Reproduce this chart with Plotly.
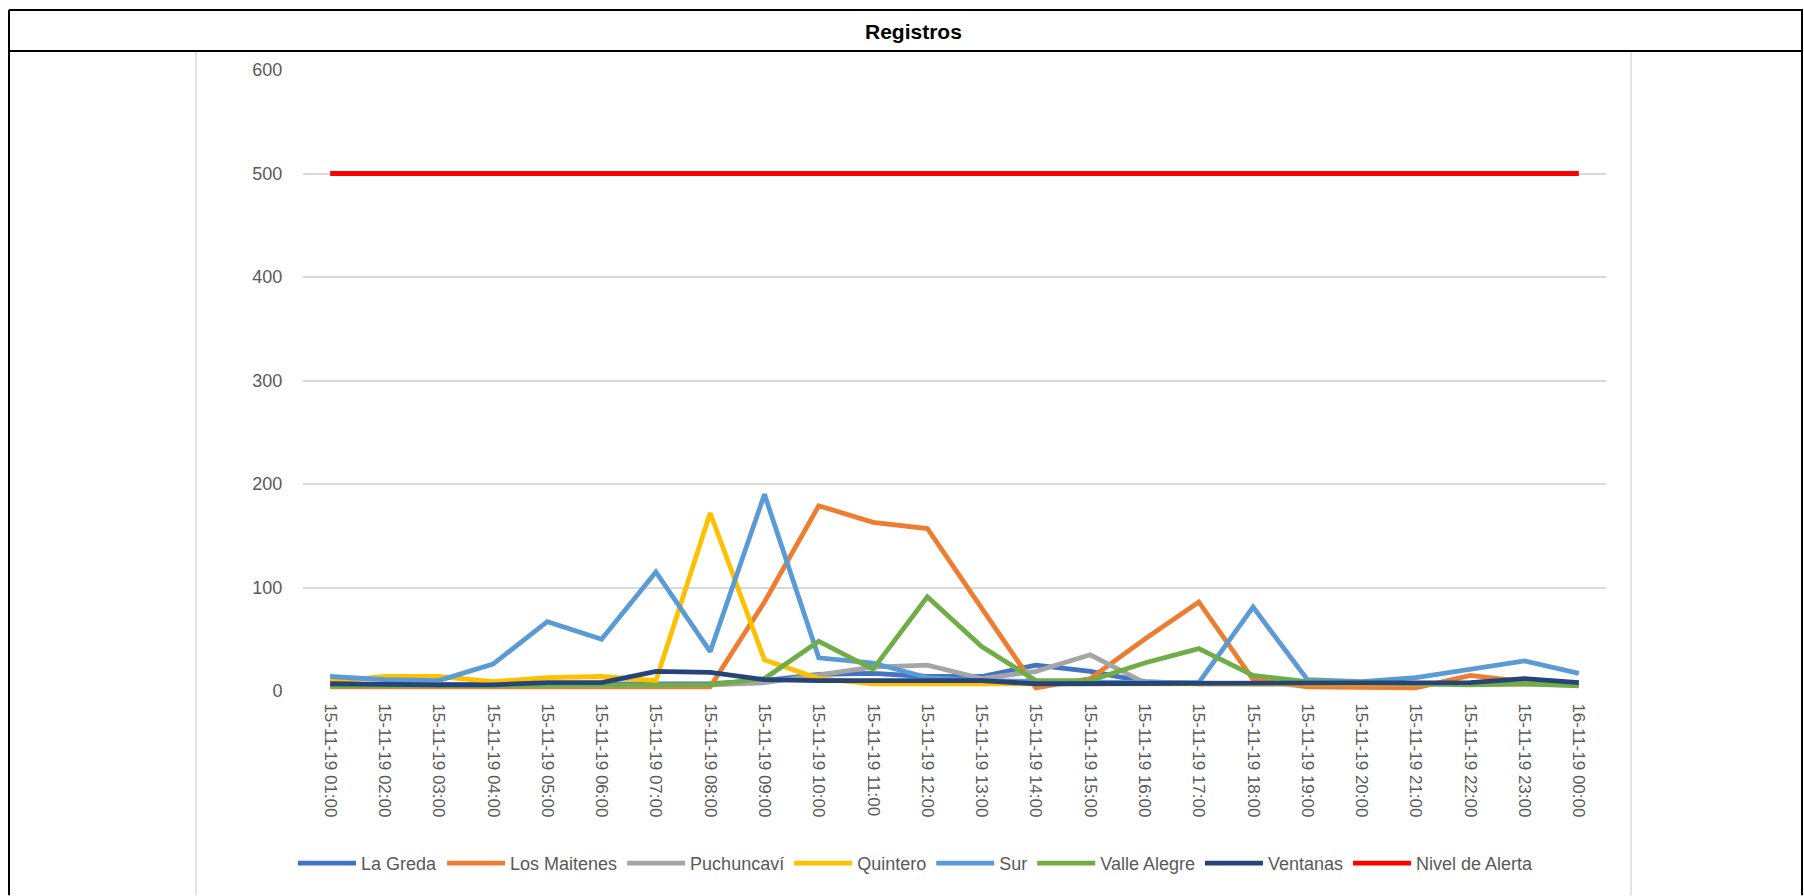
import plotly.graph_objects as go

categories = ["15-11-19 01:00", "15-11-19 02:00", "15-11-19 03:00", "15-11-19 04:00",
              "15-11-19 05:00", "15-11-19 06:00", "15-11-19 07:00", "15-11-19 08:00",
              "15-11-19 09:00", "15-11-19 10:00", "15-11-19 11:00", "15-11-19 12:00",
              "15-11-19 13:00", "15-11-19 14:00", "15-11-19 15:00", "15-11-19 16:00",
              "15-11-19 17:00", "15-11-19 18:00", "15-11-19 19:00", "15-11-19 20:00",
              "15-11-19 21:00", "15-11-19 22:00", "15-11-19 23:00", "16-11-19 00:00"]

la_greda = [6, 6, 6, 6, 7, 7, 7, 7, 10, 16, 17, 14, 14, 25, 19, 9, 7, 7, 7, 7, 7, 7, 7, 7]
los_maitenes = [4, 4, 4, 4, 4, 4, 4, 4, 86, 179, 163, 157, 80, 3, 12, 50, 86, 11, 4, 3, 3, 15, 9, 7]
puchuncavi = [5, 5, 5, 5, 5, 5, 5, 6, 8, 15, 23, 25, 12, 19, 35, 8, 7, 7, 7, 7, 7, 7, 7, 7]
quintero = [9, 14, 14, 9, 13, 14, 10, 172, 30, 12, 7, 7, 7, 7, 7, 7, 7, 8, 8, 7, 7, 7, 7, 7]
sur = [14, 11, 10, 26, 67, 50, 115, 38, 190, 32, 27, 13, 10, 9, 8, 8, 8, 81, 11, 9, 13, 21, 29, 17]
valle_alegre = [5, 5, 5, 5, 5, 5, 5, 6, 12, 48, 21, 91, 43, 10, 10, 27, 41, 15, 9, 8, 7, 6, 7, 5]
ventanas = [7, 6, 6, 6, 8, 8, 19, 18, 11, 10, 10, 10, 10, 7, 7, 7, 7, 7, 7, 7, 7, 8, 12, 8]
nivel_alerta = [500] * 24

y_ticks = [0, 100, 200, 300, 400, 500, 600]

series = [
    ("La Greda", la_greda, "#4472C4"),
    ("Los Maitenes", los_maitenes, "#ED7D31"),
    ("Puchuncaví", puchuncavi, "#A5A5A5"),
    ("Quintero", quintero, "#FFC000"),
    ("Sur", sur, "#5B9BD5"),
    ("Valle Alegre", valle_alegre, "#70AD47"),
    ("Ventanas", ventanas, "#264478"),
    ("Nivel de Alerta", nivel_alerta, "#FF0000"),
]

xs = list(range(len(categories)))
fig = go.Figure()
for name, vals, col in series:
    fig.add_trace(go.Scatter(x=xs, y=vals, name=name, mode="lines",
                             line=dict(color=col, width=4.8)))

W, H = 1804, 896
L, R, T, B = 303, 1606, 70, 691.5
pw, ph = R - L, B - T

def px(x):
    return (x - L) / pw

def py(y):
    return (B - y) / ph

font = "Liberation Sans, Arial, sans-serif"
grey = "#595959"

fig.update_layout(
    width=W, height=H,
    margin=dict(l=L, r=W - R, t=T, b=H - B, pad=0),
    paper_bgcolor="white", plot_bgcolor="white",
    font=dict(family=font, color=grey, size=18),
    showlegend=True,
    legend=dict(orientation="h", x=px(916), xanchor="center", y=py(864), yanchor="middle",
                font=dict(size=18, color=grey, family=font), itemwidth=58,
                bgcolor="rgba(0,0,0,0)"),
    xaxis=dict(range=[-0.5, len(categories) - 0.5], tickmode="array", tickvals=xs,
               ticktext=categories, tickangle=90, showgrid=False, zeroline=False,
               showline=False, ticks="outside", ticklen=8, tickcolor="rgba(0,0,0,0)",
               tickfont=dict(size=17, color=grey, family=font)),
    yaxis=dict(range=[0, 600], tickmode="array", tickvals=y_ticks, showgrid=True,
               gridcolor="#D9D9D9", gridwidth=1.5, zeroline=False, showline=False,
               ticks="outside", ticklen=16, tickcolor="rgba(0,0,0,0)",
               tickfont=dict(size=18, color=grey, family=font)),
)

shapes = []
blk = dict(color="black", width=2)
lgt = dict(color="#D9D9D9", width=1.5)
# outer table frame
shapes.append(dict(type="line", xref="paper", yref="paper", x0=px(9), x1=px(1803), y0=py(10), y1=py(10), line=blk))
shapes.append(dict(type="line", xref="paper", yref="paper", x0=px(9), x1=px(1803), y0=py(51), y1=py(51), line=blk))
shapes.append(dict(type="line", xref="paper", yref="paper", x0=px(9), x1=px(9), y0=py(10), y1=py(896), line=blk))
shapes.append(dict(type="line", xref="paper", yref="paper", x0=px(1802), x1=px(1802), y0=py(10), y1=py(896), line=blk))
# chart area frame
shapes.append(dict(type="line", xref="paper", yref="paper", x0=px(196), x1=px(196), y0=py(52), y1=py(896), line=lgt))
shapes.append(dict(type="line", xref="paper", yref="paper", x0=px(1631), x1=px(1631), y0=py(52), y1=py(896), line=lgt))
fig.update_layout(shapes=shapes)

fig.add_annotation(text="<b>Registros</b>", xref="paper", yref="paper", x=px(913), y=py(31),
                   xanchor="center", yanchor="middle", showarrow=False,
                   font=dict(size=21, color="black", family=font))

fig.write_html("out.html", config={"displayModeBar": False},
               post_script="document.body.style.margin='0px';document.body.style.overflow='hidden';")
